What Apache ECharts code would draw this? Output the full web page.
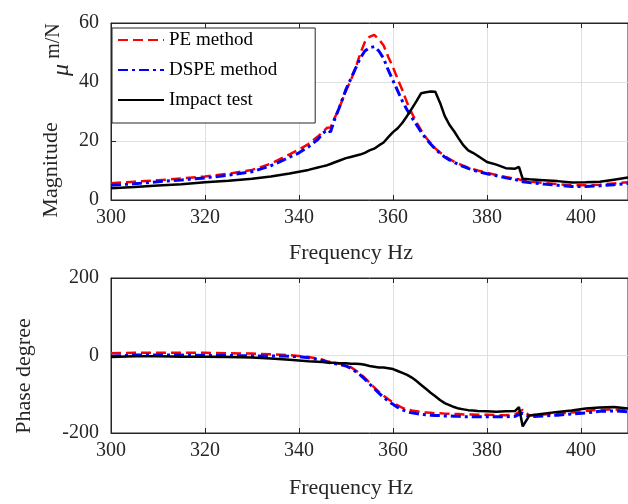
<!DOCTYPE html>
<html>
<head>
<meta charset="utf-8">
<script src="https://cdn.jsdelivr.net/npm/echarts@6/dist/echarts.min.js"></script>
<style>
  html, body { margin: 0; padding: 0; background: #fff; }
  #frf_chart { width: 628px; height: 504px; }
</style>
</head>
<body>
<div id="frf_chart"></div>
<script>
// frequency axis shared by all curves (Hz)
const freq = [300, 305, 310, 315, 320, 325, 330, 334, 338, 340, 342, 344, 345, 346, 346.7, 347.5, 348.5,
  350, 351, 352, 353, 354, 355, 356, 357, 358, 359, 360, 361, 362, 363, 364, 365, 366, 367, 368, 369,
  370, 371, 372, 373, 374, 375, 376, 377, 378, 380, 382, 384, 386, 386.8, 387.6, 389, 392, 395, 398,
  401, 404, 407, 410]

// magnitude, um/N
const magPE = [5.7, 6.2, 6.7, 7.3, 8.0, 8.9, 10.2, 12.3, 15.5, 17.1, 19.0, 21.5, 23.0, 24.5, 24.6, 27.5, 31.0,
  37.0, 40.5, 44.5, 49.5, 53.5, 55.3, 56.0, 54.5, 52.4, 48.5, 45.0, 41.0, 37.2, 33.0, 29.5, 26.3, 23.6, 21.2, 19.3, 17.5,
  16.1, 14.9, 13.9, 13.0, 12.3, 11.6, 11.0, 10.5, 10.0, 9.2, 8.5, 7.8, 7.2, 7.0, 6.6, 6.3, 5.8, 5.4, 5.0,
  5.0, 5.2, 5.6, 6.0]
const magDSPE = [5.0, 5.5, 6.2, 6.8, 7.5, 8.4, 9.6, 11.6, 14.5, 16.0, 18.0, 20.5, 22.5, 23.8, 23.0, 27.0, 31.0,
  37.5, 41.0, 44.5, 48.0, 50.5, 51.6, 52.0, 50.5, 48.0, 44.0, 40.5, 37.0, 33.5, 30.5, 28.0, 25.5, 23.0, 20.8, 19.0, 17.3,
  15.8, 14.6, 13.6, 12.8, 12.0, 11.3, 10.7, 10.2, 9.7, 8.9, 8.2, 7.5, 6.9, 6.6, 6.2, 5.9, 5.4, 5.0, 4.6,
  4.6, 4.8, 5.2, 5.6]
const magImpact = [4.0, 4.4, 4.9, 5.3, 6.0, 6.5, 7.2, 8.0, 9.0, 9.6, 10.2, 11.0, 11.4, 11.8, 12.2, 12.7, 13.3,
  14.2, 14.6, 15.0, 15.4, 16.0, 16.8, 17.4, 18.5, 19.5, 21.3, 23.0, 24.3, 26.2, 28.5, 31.0, 33.5, 36.2, 36.5, 36.8, 36.7,
  33.0, 28.5, 25.5, 23.3, 20.8, 18.5, 16.8, 16.0, 15.0, 12.9, 12.0, 10.8, 10.6, 11.2, 7.2, 7.0, 6.7, 6.4, 5.9,
  6.0, 6.2, 6.9, 7.6]

// phase, degree
const phPE = [6, 7, 7, 7, 7, 6, 5, 3, 1, -1, -4, -8, -11, -15, -17, -19, -21,
  -24, -30, -38, -47, -58, -70, -82, -94, -104, -113, -121, -129, -135, -139, -142, -144, -146, -147, -148, -149,
  -149, -150, -150, -151, -151, -152, -152, -152, -153, -153, -154, -154, -152, -146, -140, -155, -152, -150, -147,
  -143, -140, -139, -142]
const phDSPE = [-2, 1, 1, 1, 0, 0, -1, -1, -2, -3, -6, -10, -13, -17, -19, -21, -23,
  -27, -33, -41, -50, -61, -73, -85, -97, -108, -118, -126, -134, -140, -145, -148, -150, -152, -153, -154, -155,
  -155, -156, -156, -157, -157, -158, -158, -158, -158, -158, -158, -158, -157, -152, -149, -158, -156, -154, -151,
  -148, -144, -143, -145]
const phImpact = [-4, -2, -2, -3, -3, -4, -5, -8, -11, -13, -15, -16, -17, -18, -19, -19, -20,
  -20, -21, -21, -22, -24, -27, -29, -31, -31, -33, -35, -40, -45, -50, -57, -66, -76, -86, -96, -105,
  -115, -123, -128, -133, -137, -139, -141, -142, -143, -144, -145, -144, -143, -133, -183, -155, -150, -146, -142,
  -137, -134, -133, -137]

const seriesNames = ['PE method', 'DSPE method', 'Impact test']
const freqTicks = [300, 410, 20]
const magTicks = [0, 60, 20]
const phaseTicks = [-200, 200, 200]

const axisColor = '#262626'
const gridColor = '#dfdfdf'
const serif = 'Liberation Serif'

function pairs(ys) {
  return freq.map((f, i) => [f, ys[i]])
}

function bottomX(gridIndex) {
  return {
    type: 'value', gridIndex: gridIndex, position: 'bottom',
    min: freqTicks[0], max: freqTicks[1], interval: freqTicks[2],
    axisLine: { show: true, onZero: false, lineStyle: { color: axisColor, width: 1 } },
    axisTick: { show: true, inside: true, length: 5, lineStyle: { color: axisColor } },
    axisLabel: { color: axisColor, fontFamily: serif, fontSize: 20, margin: 8,
      showMaxLabel: false },
    splitLine: { show: true, lineStyle: { color: gridColor, width: 1 } }
  }
}

function topX(gridIndex) {
  return {
    type: 'value', gridIndex: gridIndex, position: 'top',
    min: freqTicks[0], max: freqTicks[1], interval: freqTicks[2],
    axisLine: { show: true, onZero: false, lineStyle: { color: axisColor, width: 1 } },
    axisTick: { show: true, inside: true, length: 5, lineStyle: { color: axisColor } },
    axisLabel: { show: false },
    splitLine: { show: false }
  }
}

function leftY(gridIndex, ticks) {
  return {
    type: 'value', gridIndex: gridIndex,
    min: ticks[0], max: ticks[1], interval: ticks[2],
    axisLine: { show: true, onZero: false, lineStyle: { color: axisColor, width: 1 } },
    axisTick: { show: true, inside: true, length: 5, lineStyle: { color: axisColor } },
    axisLabel: { color: axisColor, fontFamily: serif, fontSize: 20, margin: 12,
      padding: [0, 0, 12, 0] },
    splitLine: { show: true, lineStyle: { color: gridColor, width: 1 } }
  }
}

const lineStyles = [
  { color: '#ff0000', width: 2.5, type: [10, 5] },
  { color: '#0000ff', width: 3, type: [10, 4, 3, 4] },
  { color: '#000000', width: 2.5, type: 'solid' }
]

function line(name, idx, data, axisIndex) {
  return {
    name: name, type: 'line', data: pairs(data),
    xAxisIndex: axisIndex, yAxisIndex: axisIndex,
    symbol: 'none', showSymbol: false,
    lineStyle: lineStyles[idx],
    itemStyle: { color: lineStyles[idx].color }
  }
}

const chart = echarts.init(document.getElementById('frf_chart'))
chart.setOption({
  animation: false,
  backgroundColor: '#fff',
  grid: [
    { left: 111, top: 23, right: -7, height: 177, show: true, borderColor: axisColor, borderWidth: 1 },
    { left: 111, top: 278, right: -7, height: 155, show: true, borderColor: axisColor, borderWidth: 1 }
  ],
  xAxis: [bottomX(0), bottomX(1), topX(0), topX(1)],
  yAxis: [leftY(0, magTicks), leftY(1, phaseTicks)],
  legend: {
    orient: 'vertical', left: 112, top: 28,
    padding: [2, 38, 13, 5], itemGap: 10, itemWidth: 46, itemHeight: 20,
    borderColor: axisColor, borderWidth: 1, backgroundColor: '#fff',
    itemStyle: { opacity: 0 },
    textStyle: { fontFamily: serif, fontSize: 19, color: '#000', lineHeight: 20 },
    data: seriesNames
  },
  graphic: [
    { type: 'text', x: 51, y: 170, rotation: Math.PI / 2,
      style: { text: 'Magnitude', font: '22px "Liberation Serif"', fill: axisColor, align: 'center', verticalAlign: 'middle' } },
    { type: 'text', x: 62, y: 70, rotation: Math.PI / 2,
      style: { text: 'μ', font: 'italic 24px "Liberation Serif"', fill: axisColor, align: 'center', verticalAlign: 'middle' } },
    { type: 'text', x: 54, y: 41, rotation: Math.PI / 2,
      style: { text: 'm/N', font: '20px "Liberation Serif"', fill: axisColor, align: 'center', verticalAlign: 'middle' } },
    { type: 'text', x: 24, y: 376, rotation: Math.PI / 2,
      style: { text: 'Phase degree', font: '22px "Liberation Serif"', fill: axisColor, align: 'center', verticalAlign: 'middle' } },
    { type: 'text', x: 351, y: 253,
      style: { text: 'Frequency Hz', font: '22px "Liberation Serif"', fill: axisColor, align: 'center', verticalAlign: 'middle' } },
    { type: 'text', x: 351, y: 488,
      style: { text: 'Frequency Hz', font: '22px "Liberation Serif"', fill: axisColor, align: 'center', verticalAlign: 'middle' } }
  ],
  series: [
    line(seriesNames[0], 0, magPE, 0),
    line(seriesNames[1], 1, magDSPE, 0),
    line(seriesNames[2], 2, magImpact, 0),
    line(seriesNames[0], 0, phPE, 1),
    line(seriesNames[1], 1, phDSPE, 1),
    line(seriesNames[2], 2, phImpact, 1)
  ]
})
</script>
</body>
</html>
